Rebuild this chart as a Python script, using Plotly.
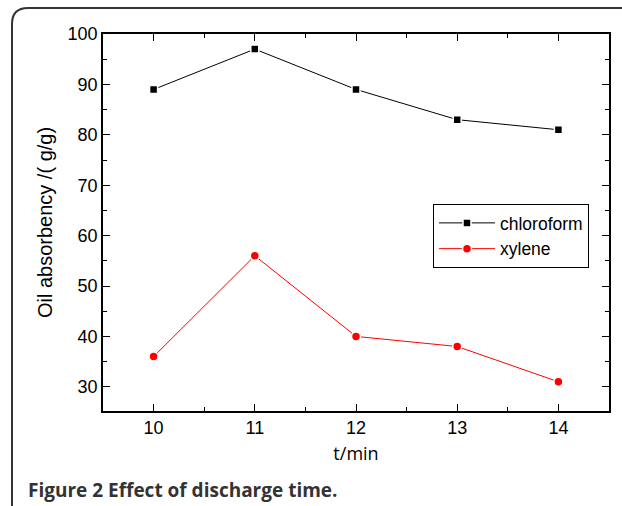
import plotly.graph_objects as go

t_min = [10, 11, 12, 13, 14]
chloroform = [89, 97, 89, 83, 81]
xylene = [36, 56, 40, 38, 31]

W, H = 622, 506
L, R, T, B = 103, 609, 34, 411

def px(x):
    return (x - L) / (R - L)

def py(y):
    return (B - y) / (B - T)

fig = go.Figure()
fig.add_trace(go.Scatter(
    x=t_min, y=chloroform, name="chloroform", mode="lines+markers",
    line=dict(color="black", width=1),
    marker=dict(symbol="square", size=8, color="black", line=dict(color="white", width=1.5)),
))
fig.add_trace(go.Scatter(
    x=t_min, y=xylene, name="xylene", mode="lines+markers",
    line=dict(color="red", width=1),
    marker=dict(symbol="circle", size=9, color="red", line=dict(color="white", width=1.5)),
))

axis_font = dict(family="Liberation Sans, Arial", size=18, color="black")
fig.update_layout(
    width=W, height=H,
    margin=dict(l=L, r=W - R, t=T, b=H - B),
    paper_bgcolor="white", plot_bgcolor="white",
    showlegend=True,
    legend=dict(
        x=px(433), y=py(204), xanchor="left", yanchor="top",
        bordercolor="black", borderwidth=1, bgcolor="white",
        font=dict(family="Liberation Sans, Arial", size=17.5, color="black"),
        itemwidth=56, tracegroupgap=0,
    ),
    xaxis=dict(
        range=[9.5, 14.5], tickvals=t_min, ticktext=[str(v) for v in t_min],
        ticks="inside", ticklen=7, tickcolor="black", tickwidth=1,
        minor=dict(ticks="inside", ticklen=4, dtick=0.5, tickcolor="black"),
        showline=True, linecolor="black", linewidth=1.5, mirror="allticks",
        showgrid=False, zeroline=False, tickfont=axis_font,
        title=dict(text="t/min", font=dict(family="Open Sans", size=18, color="black"), standoff=10),
    ),
    yaxis=dict(
        range=[25.2, 100], tickvals=[30, 40, 50, 60, 70, 80, 90, 100],
        ticks="inside", ticklen=7, tickcolor="black", tickwidth=1,
        minor=dict(ticks="inside", ticklen=4, dtick=5, tickcolor="black"),
        showline=True, linecolor="black", linewidth=1.5, mirror="allticks",
        showgrid=False, zeroline=False, tickfont=axis_font,
        title=dict(text="Oil absorbency /( g/g)", font=dict(family="Liberation Sans, Arial", size=20, color="black"), standoff=10),
    ),
)

# rounded frame (top + left edges)
path = (f"M {px(12)},{py(506)} L {px(12)},{py(24)} "
        f"Q {px(12)},{py(8)} {px(28)},{py(8)} L {px(622)},{py(8)}")
fig.add_shape(type="path", path=path, xref="paper", yref="paper",
              line=dict(color="#333333", width=2))

fig.add_annotation(
    x=px(26), y=py(490), xref="paper", yref="paper", xanchor="left", yanchor="middle",
    text="<b>Figure 2 Effect of discharge time.</b>", showarrow=False,
    font=dict(family="Open Sans", size=19, color="#333333"),
)

fig.write_html("out.html")
